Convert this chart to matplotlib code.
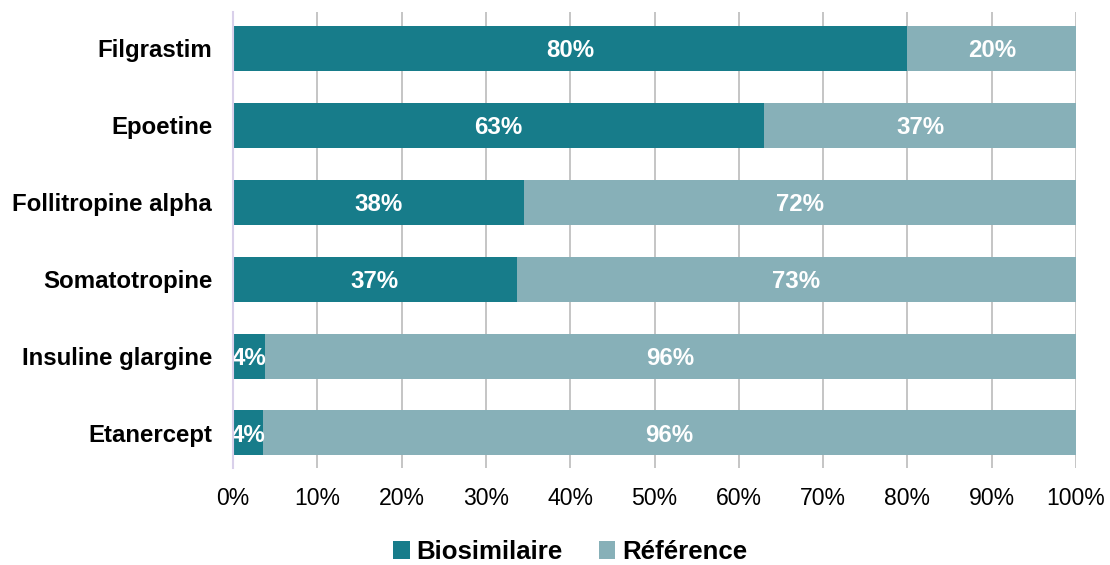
import matplotlib
matplotlib.use("Agg")
import matplotlib.pyplot as plt
import numpy as np

plt.rcParams['font.family'] = ['Liberation Sans', 'DejaVu Sans']

categories = ["Filgrastim", "Epoetine", "Follitropine alpha", "Somatotropine",
              "Insuline glargine", "Etanercept"]
biosimilaire = [80, 63, 38, 37, 3.8, 3.6]
reference = [20, 37, 72, 73, 96.2, 96.4]
labels_bio = ["80%", "63%", "38%", "37%", "4%", "4%"]
labels_ref = ["20%", "37%", "72%", "73%", "96%", "96%"]
xticks = [0, 10, 20, 30, 40, 50, 60, 70, 80, 90, 100]

c_bio = "#177c8a"
c_ref = "#87b0b8"

bio = np.array(biosimilaire, dtype=float)
ref = np.array(reference, dtype=float)
tot = bio + ref
bio_p = bio / tot * 100
ref_p = ref / tot * 100

fig = plt.figure(figsize=(11.1, 5.65), dpi=100)
ax = fig.add_axes([233/1110, 1 - 468/565, (1076-233)/1110, (468-12)/565])

y = np.arange(len(categories))
h = 0.585
b1 = ax.barh(y, bio_p, height=h, color=c_bio, label="Biosimilaire", zorder=3)
b2 = ax.barh(y, ref_p, left=bio_p, height=h, color=c_ref, label="Référence", zorder=3)

for i in range(len(categories)):
    ax.text(bio_p[i] / 2, y[i] + 0.03, labels_bio[i], ha="center", va="center",
            color="white", fontsize=17.3, fontweight="bold", zorder=4)
    ax.text(bio_p[i] + ref_p[i] / 2, y[i] + 0.03, labels_ref[i], ha="center", va="center",
            color="white", fontsize=17.3, fontweight="bold", zorder=4)

ax.set_xlim(0, 100)
ax.set_ylim(5.455, -0.47)
ax.set_xticks(xticks)
ax.set_xticklabels([f"{t}%" for t in xticks], fontsize=16.6)
ax.set_yticks(y)
ax.set_yticklabels(categories, fontsize=17.3, fontweight="bold")
ax.tick_params(axis="both", length=0)
ax.tick_params(axis="x", pad=14)
ax.tick_params(axis="y", pad=15)
ax.grid(axis="x", color="#c0c0c0", linewidth=1.3, zorder=0)
for s in ["top", "right", "bottom"]:
    ax.spines[s].set_visible(False)
ax.spines["left"].set_color("#d9d0ea")
ax.spines["left"].set_linewidth(1.5)
ax.spines["left"].set_zorder(5)

fig.legend(handles=[b1, b2], loc="center", bbox_to_anchor=(570/1110, 1 - 552/565),
           ncol=2, frameon=False, prop={"size": 18.6, "weight": "bold"},
           handlelength=0.65, handleheight=0.65, handletextpad=0.25, columnspacing=1.4)

fig.savefig("out.png", dpi=100)
